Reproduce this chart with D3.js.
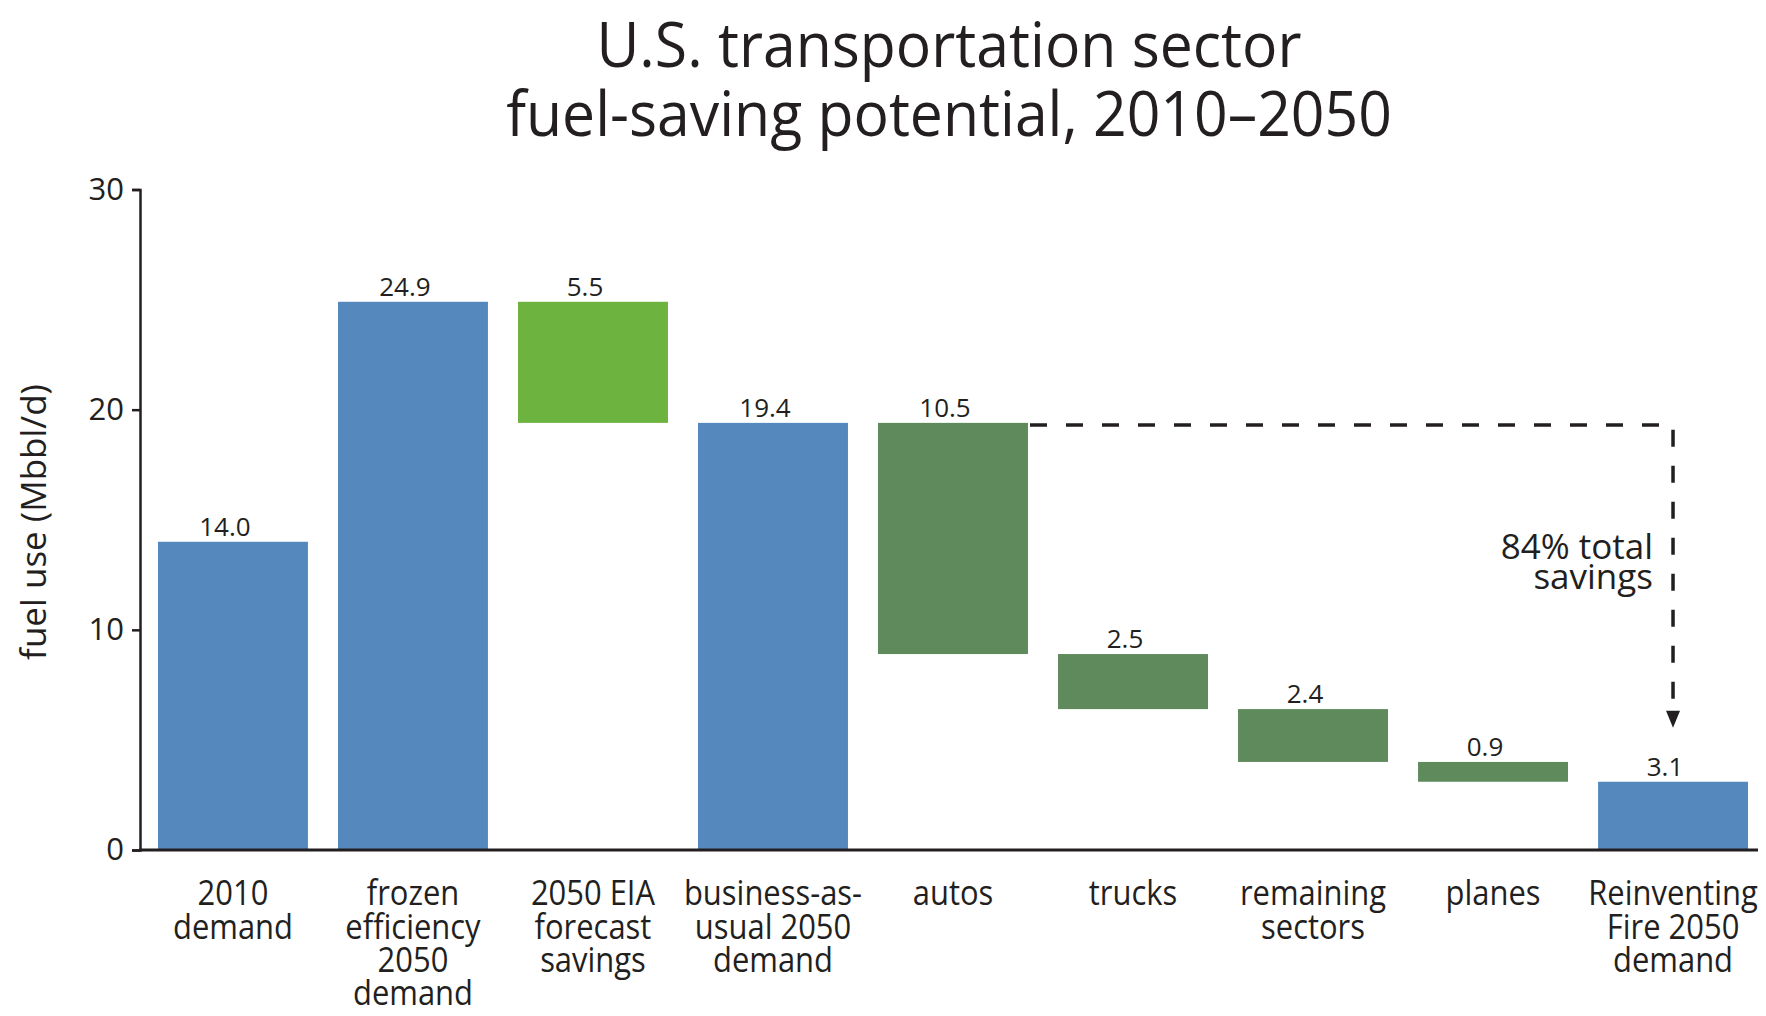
<!DOCTYPE html>
<html>
<head>
<meta charset="utf-8">
<script src="https://cdn.jsdelivr.net/npm/d3@7"></script>
<style>
  html, body { margin: 0; padding: 0; background: #fff; }
  svg { display: block; }
  text { font-family: "Open Sans", "Noto Sans", sans-serif; fill: #231f20; }
</style>
</head>
<body>
<svg id="chart" width="1766" height="1016"></svg>
<script>
// Waterfall steps: category label lines, the value each bar carries, and its kind
const categories = [
  ["2010", "demand"],
  ["frozen", "efficiency", "2050", "demand"],
  ["2050 EIA", "forecast", "savings"],
  ["business-as-", "usual 2050", "demand"],
  ["autos"],
  ["trucks"],
  ["remaining", "sectors"],
  ["planes"],
  ["Reinventing", "Fire 2050", "demand"]
];
const values = [14.0, 24.9, 5.5, 19.4, 10.5, 2.5, 2.4, 0.9, 3.1];
const barKinds = ["total", "total", "forecast", "total", "saving", "saving", "saving", "saving", "total"];
const yTicks = [0, 10, 20, 30];
const titleLines = ["U.S. transportation sector", "fuel-saving potential, 2010\u20132050"];
const yLabel = "fuel use (Mbbl/d)";
const noteLines = ["84% total", "savings"];

const colors = { total: "#5589be", forecast: "#6db33f", saving: "#5e8a5c" };
const ink = "#231f20";

const svg = d3.select("#chart");

const x = d3.scaleBand()
  .domain(d3.range(categories.length))
  .range([140, 1766])
  .paddingInner(0.167)
  .paddingOuter(0.1);

const y = d3.scaleLinear().domain([0, 30]).range([850, 189.5]);

// Totals stand on zero; savings hang down from the running level
let level = 0;
const bars = values.map((v, i) => {
  const kind = barKinds[i];
  let lo, hi;
  if (kind === "total") { lo = 0; hi = v; level = v; }
  else { hi = level; lo = level - v; level = lo; }
  return { i, v, kind, lo, hi };
});

// Title
const title = svg.append("g")
  .attr("transform", "translate(949,67) scale(0.95,1)");
title.append("text")
  .attr("text-anchor", "middle")
  .attr("font-size", 62)
  .attr("font-weight", 500)
  .selectAll("tspan")
  .data(titleLines)
  .join("tspan")
  .attr("x", 0)
  .attr("dy", (d, i) => i === 0 ? 0 : 69)
  .text(d => d);

// Bars
svg.append("g")
  .selectAll("rect")
  .data(bars)
  .join("rect")
  .attr("x", d => x(d.i))
  .attr("width", x.bandwidth())
  .attr("y", d => y(d.hi))
  .attr("height", d => y(d.lo) - y(d.hi))
  .attr("fill", d => colors[d.kind]);

// Value labels above each bar
svg.append("g")
  .selectAll("text")
  .data(bars)
  .join("text")
  .attr("x", d => x(d.i) + x.bandwidth() / 2 - 8)
  .attr("y", d => y(d.hi) - 6)
  .attr("text-anchor", "middle")
  .attr("font-size", 26)
  .text(d => d.v.toFixed(1));

// Y axis
const yAxis = svg.append("g")
  .attr("transform", "translate(140,0)")
  .call(d3.axisLeft(y).tickValues(yTicks).tickSize(8).tickPadding(8));
yAxis.select(".domain").attr("stroke", ink).attr("stroke-width", 2.5);
yAxis.selectAll(".tick line").attr("stroke", ink).attr("stroke-width", 2.5);
yAxis.selectAll(".tick text")
  .attr("font-family", "\"Open Sans\", \"Noto Sans\", sans-serif")
  .attr("font-size", 31)
  .attr("fill", ink);

// X axis baseline
svg.append("line")
  .attr("x1", 139).attr("x2", 1758)
  .attr("y1", y(0)).attr("y2", y(0))
  .attr("stroke", ink).attr("stroke-width", 3);

// Category labels under the bars
const cats = svg.append("g")
  .selectAll("g")
  .data(categories)
  .join("g")
  .attr("transform", (d, i) => `translate(${x(i) + x.bandwidth() / 2},905) scale(0.91,1)`);
cats.append("text")
  .attr("text-anchor", "middle")
  .attr("font-size", 34)
  .selectAll("tspan")
  .data(d => d)
  .join("tspan")
  .attr("x", 0)
  .attr("dy", (d, i) => i === 0 ? 0 : 33.5)
  .text(d => d);

// Y axis title
svg.append("text")
  .attr("transform", "translate(46,522) rotate(-90)")
  .attr("text-anchor", "middle")
  .attr("font-size", 35)
  .text(yLabel);

// Dashed bracket from the business-as-usual level down to the final demand
const bau = bars[3];
const autos = bars[4];
const last = bars[bars.length - 1];
const lineY = y(bau.hi) + 2;
const xStart = x(autos.i) + x.bandwidth() + 2;
const xEnd = x(last.i) + x.bandwidth() / 2;
const tipY = y(last.hi) - 54;
const headLen = 17, headHalf = 7;

svg.append("path")
  .attr("d", `M${xStart},${lineY}H${xEnd}V${tipY - headLen + 2}`)
  .attr("fill", "none")
  .attr("stroke", ink)
  .attr("stroke-width", 3.5)
  .attr("stroke-dasharray", "17,19");

svg.append("path")
  .attr("d", `M${xEnd - headHalf},${tipY - headLen}L${xEnd + headHalf},${tipY - headLen}L${xEnd},${tipY}Z`)
  .attr("fill", ink);

// Savings note beside the bracket
svg.append("text")
  .attr("text-anchor", "end")
  .attr("font-size", 35)
  .selectAll("tspan")
  .data(noteLines)
  .join("tspan")
  .attr("x", 1653)
  .attr("y", (d, i) => 559 + i * 30)
  .text(d => d);
</script>
</body>
</html>
